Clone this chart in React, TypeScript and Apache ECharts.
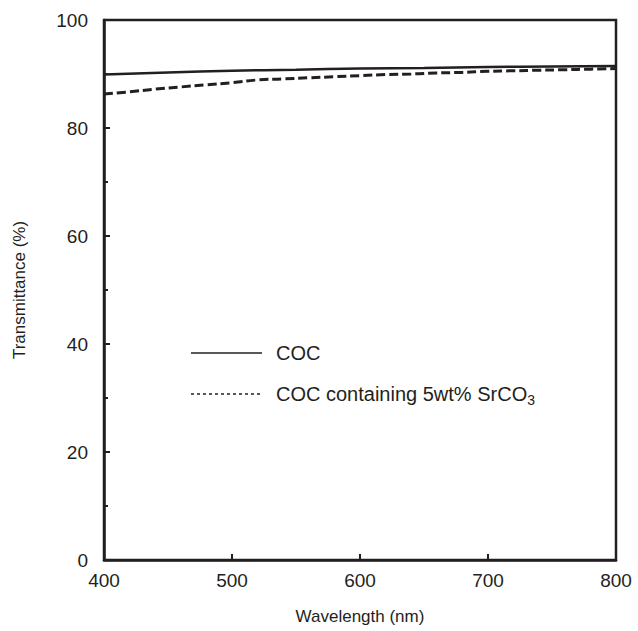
import React, { useEffect, useRef } from "react";
import * as echarts from "echarts";

const wavelengthsCOC = [400, 450, 500, 550, 600, 650, 700, 750, 800];
const valuesCOC = [89.9, 90.3, 90.6, 90.8, 91.0, 91.1, 91.3, 91.4, 91.5];

const wavelengthsSr = [400, 420, 440, 460, 480, 500, 520, 540, 560, 580, 600, 620, 640, 660, 680, 700, 720, 740, 760, 780, 800];
const valuesSr = [86.3, 86.7, 87.2, 87.6, 88.0, 88.4, 88.9, 89.1, 89.3, 89.5, 89.7, 89.9, 90.0, 90.2, 90.3, 90.5, 90.6, 90.7, 90.8, 90.9, 91.0];

const seriesNames = ["COC", "COC containing 5wt% SrCO"];
const xTitle = "Wavelength (nm)";
const yTitle = "Transmittance (%)";

const INK = "#231f20";
const FONT = "Liberation Sans, Arial, Helvetica, sans-serif";

export default function App() {
  const ref = useRef<HTMLDivElement>(null);
  useEffect(() => {
    document.body.style.margin = "0";
    if (!ref.current) return;
    const chart = echarts.init(ref.current, undefined, { renderer: "svg" });
    chart.setOption({
      animation: false,
      backgroundColor: "#ffffff",
      grid: {
        left: 104,
        right: 22,
        top: 20,
        bottom: 71,
        show: true,
        borderColor: INK,
        borderWidth: 2.5,
        containLabel: false,
      },
      xAxis: {
        type: "value",
        min: 400,
        max: 800,
        interval: 100,
        name: xTitle,
        nameLocation: "middle",
        nameGap: 48,
        nameTextStyle: { color: INK, fontSize: 17, fontFamily: FONT },
        axisLine: { show: true, lineStyle: { color: INK, width: 2.5 } },
        axisTick: { show: true, inside: true, length: 6, lineStyle: { color: INK, width: 2 } },
        axisLabel: { color: INK, fontSize: 19, fontFamily: FONT, margin: 11 },
        splitLine: { show: false },
      },
      yAxis: {
        type: "value",
        min: 0,
        max: 100,
        interval: 20,
        name: yTitle,
        nameLocation: "middle",
        nameGap: 76,
        nameRotate: 90,
        nameTextStyle: { color: INK, fontSize: 17, fontFamily: FONT },
        axisLine: { show: true, lineStyle: { color: INK, width: 2.5 } },
        axisTick: { show: true, inside: true, length: 6, lineStyle: { color: INK, width: 2 } },
        minorTick: { show: true, splitNumber: 2, length: 4, lineStyle: { color: INK, width: 2 } },
        axisLabel: { color: INK, fontSize: 19, fontFamily: FONT, margin: 16 },
        splitLine: { show: false },
        minorSplitLine: { show: false },
      },
      series: [
        {
          name: seriesNames[0],
          type: "line",
          data: wavelengthsCOC.map((w, i) => [w, valuesCOC[i]]),
          showSymbol: false,
          smooth: true,
          lineStyle: { color: INK, width: 2.5, type: "solid" },
        },
        {
          name: seriesNames[1],
          type: "line",
          data: wavelengthsSr.map((w, i) => [w, valuesSr[i]]),
          showSymbol: false,
          smooth: true,
          lineStyle: { color: INK, width: 3, type: [9, 4] },
        },
      ],
      graphic: [
        { type: "line", shape: { x1: 191, y1: 353, x2: 262, y2: 353 }, style: { stroke: INK, lineWidth: 1.5 } },
        {
          type: "text",
          x: 276,
          y: 353,
          style: { text: seriesNames[0], fill: INK, font: `20px ${FONT}`, verticalAlign: "middle" },
        },
        { type: "line", shape: { x1: 191, y1: 394, x2: 262, y2: 394 }, style: { stroke: INK, lineWidth: 1.5, lineDash: [3, 3] } },
        {
          type: "text",
          x: 276,
          y: 394,
          style: {
            text: "{a|" + seriesNames[1] + "}{s|3}",
            verticalAlign: "middle",
            rich: {
              a: { fill: INK, fontSize: 20, fontFamily: FONT, color: INK },
              s: { fill: INK, fontSize: 14, fontFamily: FONT, color: INK, padding: [11, 0, 0, 0] },
            },
          },
        },
      ],
    });
    return () => chart.dispose();
  }, []);
  return <div ref={ref} style={{ width: 638, height: 631 }} />;
}
